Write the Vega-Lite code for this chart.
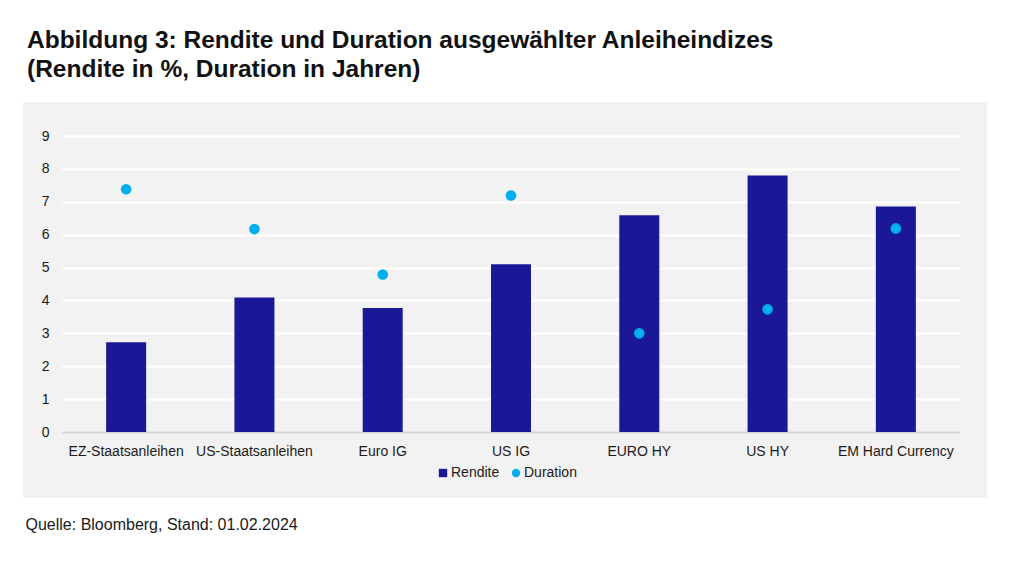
{
  "$schema": "https://vega.github.io/schema/vega-lite/v6.json",
  "width": 964,
  "height": 396,
  "autosize": {"type": "none"},
  "padding": {"left": 23, "top": 102, "right": 32, "bottom": 75},
  "background": "white",
  "title": {
    "text": ["Abbildung 3: Rendite und Duration ausgewählter Anleiheindizes", "(Rendite in %, Duration in Jahren)"],
    "anchor": "start",
    "frame": "group",
    "font": "Liberation Sans",
    "fontSize": 24.5,
    "fontWeight": 600,
    "color": "#111111",
    "lineHeight": 29,
    "offset": 20,
    "dx": 4
  },
  "config": {
    "view": {"fill": "#f2f2f2", "stroke": null},
    "font": "Liberation Sans"
  },
  "data": {
    "values": [
      {"kategorie": "EZ-Staatsanleihen", "kennzahl": "Rendite", "wert": 2.73},
      {"kategorie": "US-Staatsanleihen", "kennzahl": "Rendite", "wert": 4.09},
      {"kategorie": "Euro IG", "kennzahl": "Rendite", "wert": 3.77},
      {"kategorie": "US IG", "kennzahl": "Rendite", "wert": 5.10},
      {"kategorie": "EURO HY", "kennzahl": "Rendite", "wert": 6.59},
      {"kategorie": "US HY", "kennzahl": "Rendite", "wert": 7.80},
      {"kategorie": "EM Hard Currency", "kennzahl": "Rendite", "wert": 6.86},
      {"kategorie": "EZ-Staatsanleihen", "kennzahl": "Duration", "wert": 7.38},
      {"kategorie": "US-Staatsanleihen", "kennzahl": "Duration", "wert": 6.17},
      {"kategorie": "Euro IG", "kennzahl": "Duration", "wert": 4.79},
      {"kategorie": "US IG", "kennzahl": "Duration", "wert": 7.19},
      {"kategorie": "EURO HY", "kennzahl": "Duration", "wert": 3.00},
      {"kategorie": "US HY", "kennzahl": "Duration", "wert": 3.73},
      {"kategorie": "EM Hard Currency", "kennzahl": "Duration", "wert": 6.19}
    ]
  },
  "encoding": {
    "x": {
      "field": "kategorie",
      "type": "nominal",
      "sort": null,
      "scale": {"range": [39, 937], "paddingInner": 0, "paddingOuter": 0},
      "axis": {
        "orient": "bottom",
        "offset": -66,
        "labelAngle": 0,
        "labelFontSize": 14,
        "labelColor": "#1a1a1a",
        "labelPadding": 12,
        "labelOverlap": false,
        "labelBound": false,
        "ticks": false,
        "domain": true,
        "domainColor": "#d4d4d4",
        "domainWidth": 2,
        "title": "Quelle: Bloomberg, Stand: 01.02.2024",
        "titleX": 2,
        "titleY": 92,
        "titleAlign": "left",
        "titleAnchor": "start",
        "titleBaseline": "middle",
        "titleFontSize": 16,
        "titleFontWeight": "normal",
        "titleColor": "#1a1a1a"
      }
    },
    "y": {
      "field": "wert",
      "type": "quantitative",
      "scale": {"domain": [0, 9], "range": [330, 34], "nice": false},
      "axis": {
        "values": [0, 1, 2, 3, 4, 5, 6, 7, 8, 9],
        "offset": -32,
        "labelPadding": 6,
        "labelFontSize": 14,
        "labelColor": "#1a1a1a",
        "ticks": false,
        "domain": false,
        "grid": true,
        "gridColor": "#ffffff",
        "gridWidth": 2,
        "title": null
      }
    },
    "color": {
      "field": "kennzahl",
      "type": "nominal",
      "scale": {"domain": ["Rendite", "Duration"], "range": ["#1a1896", "#00aeef"]},
      "legend": {
        "title": null,
        "orient": "none",
        "direction": "horizontal",
        "legendX": 413,
        "legendY": 364,
        "padding": 0,
        "symbolSize": 70,
        "labelFontSize": 14,
        "labelColor": "#1a1a1a",
        "labelOffset": 1,
        "columnPadding": 9,
        "symbolStrokeWidth": 0
      }
    }
  },
  "layer": [
    {
      "transform": [{"filter": "datum.kennzahl === 'Rendite'"}],
      "mark": {"type": "bar", "width": 40}
    },
    {
      "transform": [{"filter": "datum.kennzahl === 'Duration'"}],
      "mark": {"type": "point", "filled": true, "opacity": 1, "size": 113},
      "encoding": {
        "shape": {
          "field": "kennzahl",
          "type": "nominal",
          "scale": {"domain": ["Rendite", "Duration"], "range": ["square", "circle"]},
          "legend": {
            "title": null,
            "orient": "none",
            "direction": "horizontal",
            "legendX": 413,
            "legendY": 364,
            "padding": 0,
            "symbolSize": 70,
            "labelFontSize": 14,
            "labelColor": "#1a1a1a",
            "labelOffset": 1,
            "columnPadding": 9,
            "symbolStrokeWidth": 0
          }
        }
      }
    }
  ]
}
